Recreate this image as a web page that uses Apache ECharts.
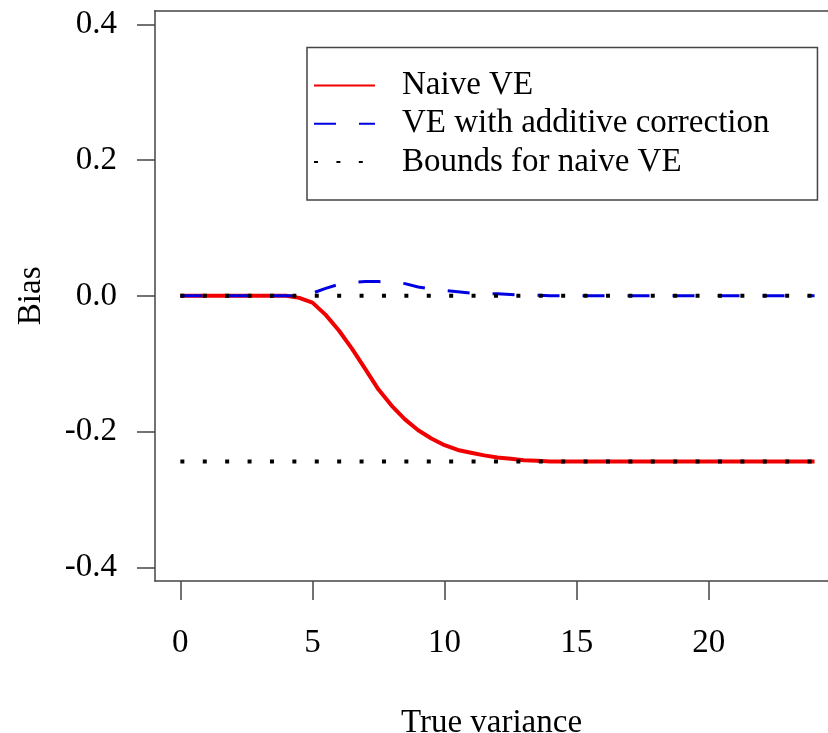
<!DOCTYPE html>
<html>
<head>
<meta charset="utf-8">
<title>Bias vs true variance</title>
<script src="https://cdn.jsdelivr.net/npm/echarts@6/dist/echarts.min.js"></script>
<style>
  html, body { margin: 0; padding: 0; background: #fff; }
  #chart { width: 828px; height: 733px; }
</style>
</head>
<body>
<div id="chart"></div>
<script>
// True variance grid (x values)
const varianceX = [0, 0.5, 1, 1.5, 2, 2.5, 3, 3.5, 4, 4.5, 5, 5.5, 6, 6.5, 7, 7.5, 8, 8.5, 9, 9.5,
  10, 10.5, 11, 11.5, 12, 12.5, 13, 13.5, 14, 14.5, 15, 15.5, 16, 16.5, 17, 17.5, 18, 18.5, 19, 19.5,
  20, 20.5, 21, 21.5, 22, 22.5, 23, 23.5, 24];

// Bias of the naive VE
const naiveBias = [0, 0, 0, 0, 0, 0, 0, 0, 0, -0.003, -0.010, -0.028, -0.051, -0.078, -0.108, -0.138,
  -0.162, -0.182, -0.198, -0.210, -0.220, -0.227, -0.231, -0.235, -0.238, -0.240, -0.242, -0.243,
  -0.244, -0.244, -0.244, -0.244, -0.244, -0.244, -0.244, -0.244, -0.244, -0.244, -0.244, -0.244,
  -0.244, -0.244, -0.244, -0.244, -0.244, -0.244, -0.244, -0.244, -0.244];

// Bias of the VE with additive correction
const correctedBias = [0, 0, 0, 0, 0, 0, 0, 0, 0, 0.000, 0.004, 0.011, 0.017, 0.020, 0.021, 0.021,
  0.020, 0.018, 0.013, 0.010, 0.008, 0.006, 0.004, 0.003, 0.003, 0.002, 0.001, 0.001,
  0, 0, 0, 0, 0, 0, 0, 0, 0, 0, 0, 0, 0, 0, 0, 0, 0, 0, 0, 0, 0];

// Upper and lower bounds for the naive VE
const boundX = [0, 24];
const upperBound = [0, 0];
const lowerBound = [-0.244, -0.244];

// Axis ticks
const xTicks = [0, 5, 10, 15, 20];
const yTicks = [-0.4, -0.2, 0, 0.2, 0.4];

const seriesNames = ['Naive VE', 'VE with additive correction', 'Bounds for naive VE'];

const FONT = '"Liberation Serif", "Times New Roman", serif';
const AXIS_COLOR = '#444';
const X_MIN = -0.96, X_MAX = 24.51;

function pairs(xs, ys) {
  return xs.map((x, i) => [x, ys[i]]);
}

const chart = echarts.init(document.getElementById('chart'), null, { renderer: 'canvas' });

chart.setOption({
  animation: false,
  backgroundColor: '#fff',
  grid: { left: 155, top: 10.7, right: 0, bottom: 152, containLabel: false, outerBoundsMode: 'none' },
  xAxis: [
    {
      type: 'value', min: X_MIN, max: X_MAX, position: 'bottom',
      name: 'True variance', nameLocation: 'middle', nameGap: 126,
      nameTextStyle: { fontFamily: FONT, fontSize: 33, color: '#000' },
      axisLine: { show: true, onZero: false, lineStyle: { color: AXIS_COLOR, width: 1.5 } },
      splitLine: { show: false },
      axisTick: { show: true, inside: false, length: 19, customValues: xTicks,
        lineStyle: { color: AXIS_COLOR, width: 1.5 } },
      axisLabel: { show: true, customValues: xTicks, margin: 46,
        fontFamily: FONT, fontSize: 33, color: '#000',
        formatter: v => String(v) }
    },
    {
      // top edge of the plot frame
      type: 'value', min: X_MIN, max: X_MAX, position: 'top',
      axisLine: { show: true, onZero: false, lineStyle: { color: AXIS_COLOR, width: 1.5 } },
      axisTick: { show: false }, axisLabel: { show: false }, splitLine: { show: false }
    }
  ],
  yAxis: {
    type: 'value', min: -0.42, max: 0.42,
    name: 'Bias', nameLocation: 'middle', nameGap: 107, nameRotate: 90,
    nameTextStyle: { fontFamily: FONT, fontSize: 33, color: '#000' },
    axisLine: { show: true, onZero: false, lineStyle: { color: AXIS_COLOR, width: 1.5 } },
    splitLine: { show: false },
    axisTick: { show: true, inside: false, length: 18, customValues: yTicks,
      lineStyle: { color: AXIS_COLOR, width: 1.5 } },
    axisLabel: { show: true, customValues: yTicks, margin: 38, padding: [4, 0, 0, 0],
      fontFamily: FONT, fontSize: 33, color: '#000',
      formatter: v => v.toFixed(1) }
  },
  legend: {
    orient: 'vertical', left: 307, top: 47.5,
    padding: [19, 48, 19, 6],
    itemWidth: 61, itemHeight: 14, itemGap: 0.3,
    borderColor: AXIS_COLOR, borderWidth: 1.5, backgroundColor: '#fff',
    selectedMode: false,
    itemStyle: { opacity: 0, borderWidth: 0 },
    textStyle: { fontFamily: FONT, fontSize: 33, color: '#000', lineHeight: 38, padding: [0, 0, 0, 22] },
    data: seriesNames
  },
  series: [
    {
      name: seriesNames[0], type: 'line', data: pairs(varianceX, naiveBias),
      symbol: 'none', smooth: false,
      lineStyle: { color: '#f00000', width: 4, join: 'round' }, itemStyle: { color: '#f00000' },
      z: 2
    },
    {
      name: seriesNames[1], type: 'line', data: pairs(varianceX, correctedBias),
      symbol: 'none',
      lineStyle: { color: '#0000e0', width: 3, type: [22, 23], cap: 'butt' }, itemStyle: { color: '#0000e0' },
      z: 3
    },
    {
      name: seriesNames[2], type: 'line', data: pairs(boundX, upperBound),
      symbol: 'none',
      lineStyle: { color: '#000', width: 4, type: [4, 18.4], cap: 'butt' }, itemStyle: { color: '#000' },
      z: 4
    },
    {
      name: seriesNames[2], type: 'line', data: pairs(boundX, lowerBound),
      symbol: 'none',
      lineStyle: { color: '#000', width: 4, type: [4, 18.4], cap: 'butt' }, itemStyle: { color: '#000' },
      z: 4
    }
  ]
});
</script>
</body>
</html>
